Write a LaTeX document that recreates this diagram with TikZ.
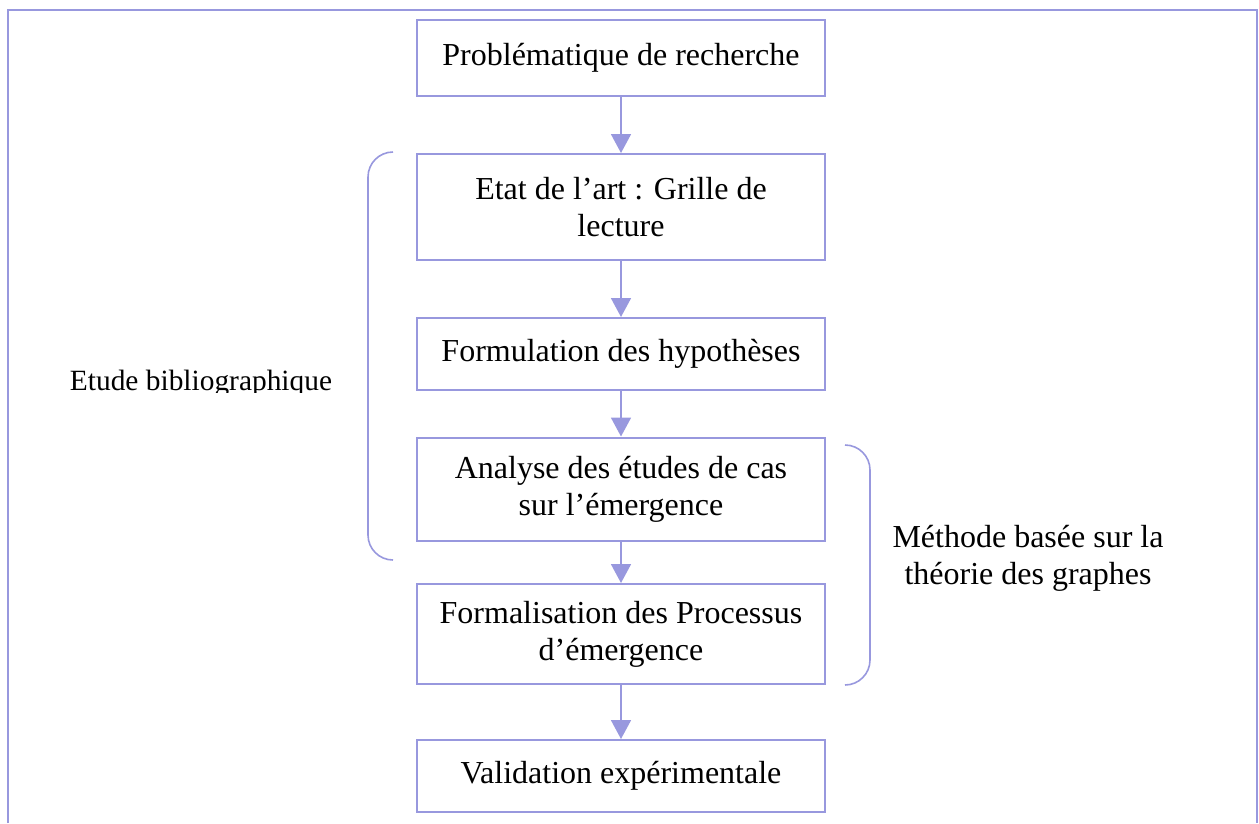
\documentclass[tikz,border=0pt]{standalone}
\usepackage{fontspec}
\setmainfont{Liberation Serif}
\usetikzlibrary{arrows.meta}
\definecolor{lav}{RGB}{152,152,222}
\begin{document}
\begin{tikzpicture}[x=1pt,y=-1pt,
  stepbox/.style={draw=lav,line width=2pt,minimum width=408pt,align=center,inner sep=0pt,
     font=\fontsize{32}{37}\selectfont},
  flow/.style={draw=lav,line width=1.8pt,-{Triangle[width=20pt,length=19pt]},color=lav},
  brace/.style={draw=lav,line width=1.6pt,rounded corners=25pt},
  lbl/.style={align=center,inner sep=0pt,font=\fontsize{32}{37}\selectfont}]
\useasboundingbox (0,0) rectangle (1259,823);
% frame
\draw[lav,line width=2pt] (7.5,823) -- (7.5,10) -- (1256.5,10) -- (1256.5,823);
% boxes
\node[stepbox,minimum height=76pt] (b1) at (621,58) {Problématique de recherche};
\node[stepbox,minimum height=106pt] (b2) at (621,207) {Etat de l’art : Grille de\\lecture};
\node[stepbox,minimum height=72pt] (b3) at (621,354) {Formulation des hypothèses};
\node[stepbox,minimum height=103pt] (b4) at (621,489) {Analyse des études de cas\\sur l’émergence};
\node[stepbox,minimum height=100pt] (b5) at (621,634) {Formalisation des Processus\\d’émergence};
\node[stepbox,minimum height=72pt] (b6) at (621,776) {Validation expérimentale};
% arrows
\draw[flow] (b1) -- (b2);
\draw[flow] (b2) -- (b3);
\draw[flow] (b3) -- (b4);
\draw[flow] (b4) -- (b5);
\draw[flow] (b5) -- (b6);
% braces
\draw[brace] (393,152) -- (368,152) -- (368,560) -- (393,560);
\draw[brace] (845,445) -- (870,445) -- (870,685) -- (845,685);
% labels
\begin{scope}
\clip (0,330) rectangle (360,392);
\node[lbl,font=\fontsize{29.4}{34}\selectfont,anchor=base] (l1) at (201,390) {Etude bibliographique};
\end{scope}
\node[lbl,anchor=base] (l2) at (1028,547) {Méthode basée sur la};
\node[lbl,anchor=base] (l3) at (1028,584) {théorie des graphes};
\end{tikzpicture}
\end{document}
